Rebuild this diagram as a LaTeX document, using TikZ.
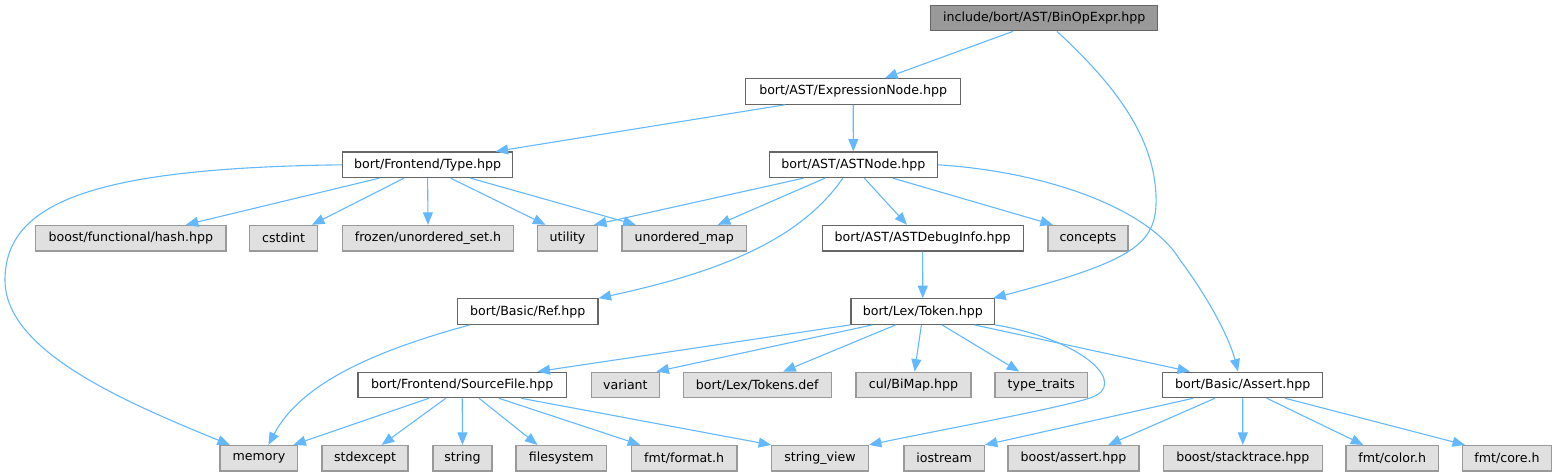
\documentclass[tikz,border=0pt]{standalone}
\usepackage{fontspec}
\setmainfont{DejaVu Sans}
\usetikzlibrary{arrows.meta}
\definecolor{cEdge}{HTML}{63B8FF}
\definecolor{cDark}{HTML}{666666}
\definecolor{cMid}{HTML}{999999}
\definecolor{cLight}{HTML}{E0E0E0}
\tikzset{
  box/.style={draw=cDark, line width=1.2pt, fill=white, minimum height=25.5pt, inner sep=0pt, anchor=center, font=\fontsize{12.6}{15}\selectfont},
  gbox/.style={box, draw=cMid, fill=cLight},
  rbox/.style={box, draw=cDark, fill=cMid},
  dep/.style={draw=cEdge, line width=1.1pt, -{Triangle[length=12.5pt,width=10pt]}}
}
\begin{document}
\begin{tikzpicture}[x=1pt,y=-1pt]
\useasboundingbox (0,0) rectangle (1557,476);
% row 0
\node[rbox, minimum width=227pt] (root) at (1044.2,18.05) {include/bort/AST/BinOpExpr.hpp};
% row 1
\node[box, minimum width=215pt] (expr) at (853.2,91.42) {bort/AST/ExpressionNode.hpp};
% row 2
\node[box, minimum width=170pt] (type) at (427.6,164.79) {bort/Frontend/Type.hpp};
\node[box, minimum width=168pt] (astnode) at (853.35,164.79) {bort/AST/ASTNode.hpp};
% row 3
\node[gbox, minimum width=190.4pt] (boosthash) at (130.8,238.16) {boost/functional/hash.hpp};
\node[gbox, minimum width=67.6pt] (cstdint) at (283.6,238.16) {cstdint};
\node[gbox, minimum width=171.5pt] (frozen) at (428,238.16) {frozen/unordered\_set.h};
\node[gbox, minimum width=60pt] (utility) at (567.5,238.16) {utility};
\node[gbox, minimum width=124.3pt] (umap) at (684.2,238.16) {unordered\_map};
\node[box, minimum width=201pt] (debuginfo) at (922.6,238.16) {bort/AST/ASTDebugInfo.hpp};
\node[gbox, minimum width=80pt] (concepts) at (1087.9,238.16) {concepts};
% row 4
\node[box, minimum width=140.3pt] (ref) at (527.8,311.53) {bort/Basic/Ref.hpp};
\node[box, minimum width=143.6pt] (token) at (922.8,311.53) {bort/Lex/Token.hpp};
% row 5
\node[box, minimum width=208.4pt] (sourcefile) at (462.2,384.9) {bort/Frontend/SourceFile.hpp};
\node[gbox, minimum width=67.8pt] (variant) at (625.4,384.9) {variant};
\node[gbox, minimum width=148.2pt] (tokensdef) at (757.3,384.9) {bort/Lex/Tokens.def};
\node[gbox, minimum width=115pt] (bimap) at (913.5,384.9) {cul/BiMap.hpp};
\node[gbox, minimum width=92.5pt] (typetraits) at (1041.25,384.9) {type\_traits};
\node[box, minimum width=160pt] (assert) at (1242.7,384.9) {bort/Basic/Assert.hpp};
% row 6
\node[gbox, minimum width=77.7pt] (memory) at (258.9,458.27) {memory};
\node[gbox, minimum width=86pt] (stdexcept) at (365,458.27) {stdexcept};
\node[gbox, minimum width=59pt] (string) at (462.5,458.27) {string};
\node[gbox, minimum width=90.7pt] (filesystem) at (561.3,458.27) {filesystem};
\node[gbox, minimum width=105.6pt] (fmtformat) at (684.2,458.27) {fmt/format.h};
\node[gbox, minimum width=96.6pt] (stringview) at (820,458.27) {string\_view};
\node[gbox, minimum width=80.3pt] (iostream) at (944.1,458.27) {iostream};
\node[gbox, minimum width=131pt] (boostassert) at (1073.5,458.27) {boost/assert.hpp};
\node[gbox, minimum width=159pt] (stacktrace) at (1242.8,458.27) {boost/stacktrace.hpp};
\node[gbox, minimum width=92.3pt] (fmtcolor) at (1392.2,458.27) {fmt/color.h};
\node[gbox, minimum width=89.4pt] (fmtcore) at (1507,458.27) {fmt/core.h};
% edges
\draw[dep] ([xshift=-31.2pt]root.south) -- ([xshift=31.8pt]expr.north);
\draw[dep] ([xshift=12.8pt]root.south) .. controls (1115,85) and (1158,140) .. (1156,205) .. controls (1154,245) and (1130,262) .. ([xshift=-2pt]token.north east);
\draw[dep] ([xshift=-68.2pt]expr.south) -- ([xshift=68pt]type.north);
\draw[dep] (expr.south) -- (astnode.north);
\draw[dep] (type.west) .. controls (100,168) and (5,200) .. (5,280) .. controls (5,350) and (120,400) .. ([xshift=-29pt]memory.north);
\draw[dep] ([xshift=-48.2pt]type.south) -- ([xshift=55pt]boosthash.north);
\draw[dep] ([xshift=-23.6pt]type.south) -- ([xshift=28.4pt]cstdint.north);
\draw[dep] (type.south) -- (frozen.north);
\draw[dep] ([xshift=23pt]type.south) -- ([xshift=-22pt]utility.north);
\draw[dep] ([xshift=42.8pt]type.south) -- ([xshift=-48.5pt]umap.north);
\draw[dep] ([xshift=-49.75pt]astnode.south) -- ([xshift=26.5pt]utility.north);
\draw[dep] ([xshift=-28.4pt]astnode.south) -- ([xshift=33.7pt]umap.north);
\draw[dep] ([xshift=-10.5pt]astnode.south) .. controls (800,240) and (720,272) .. (ref.north east);
\draw[dep] ([xshift=11pt]astnode.south) -- ([xshift=-15.6pt]debuginfo.north);
\draw[dep] ([xshift=39.5pt]astnode.south) -- ([xshift=-35pt]concepts.north);
\draw[dep] (astnode.east) .. controls (1050,172) and (1150,210) .. (1180,260) .. controls (1210,300) and (1230,340) .. ([xshift=-4.7pt]assert.north);
\draw[dep] (debuginfo.south) -- (token.north);
\draw[dep] ([xshift=-57.8pt]ref.south) .. controls (370,352) and (300,385) .. ([xshift=9.5pt]memory.north);
\draw[dep] (token.south west) -- ([xshift=75.3pt]sourcefile.north);
\draw[dep] ([xshift=-50.3pt]token.south) -- ([xshift=31pt]variant.north);
\draw[dep] ([xshift=-27.1pt]token.south) -- ([xshift=25.9pt]tokensdef.north);
\draw[dep] ([xshift=-1.4pt]token.south) -- ([xshift=1.1pt]bimap.north);
\draw[dep] ([xshift=19.2pt]token.south) -- ([xshift=-22pt]typetraits.north);
\draw[dep] ([xshift=51.5pt]token.south) -- ([xshift=-52.7pt]assert.north);
\draw[dep] (token.south east) .. controls (1085,340) and (1130,385) .. (1090,398) .. controls (1060,408) and (930,432) .. (stringview.north east);
\draw[dep] ([xshift=-33.3pt]sourcefile.south) -- ([xshift=34.5pt]memory.north);
\draw[dep] ([xshift=-16.4pt]sourcefile.south) -- ([xshift=16.7pt]stdexcept.north);
\draw[dep] (sourcefile.south) -- (string.north);
\draw[dep] ([xshift=16.8pt]sourcefile.south) -- ([xshift=-23.8pt]filesystem.north);
\draw[dep] ([xshift=36.6pt]sourcefile.south) -- ([xshift=-44pt]fmtformat.north);
\draw[dep] ([xshift=58.8pt]sourcefile.south) -- (stringview.north west);
\draw[dep] ([xshift=-49.4pt]assert.south) -- (iostream.north east);
\draw[dep] ([xshift=-27.7pt]assert.south) -- ([xshift=34.8pt]boostassert.north);
\draw[dep] (assert.south) -- (stacktrace.north);
\draw[dep] ([xshift=24pt]assert.south) -- ([xshift=-28.9pt]fmtcolor.north);
\draw[dep] ([xshift=42.3pt]assert.south) -- ([xshift=-42pt]fmtcore.north);
\end{tikzpicture}
\end{document}
